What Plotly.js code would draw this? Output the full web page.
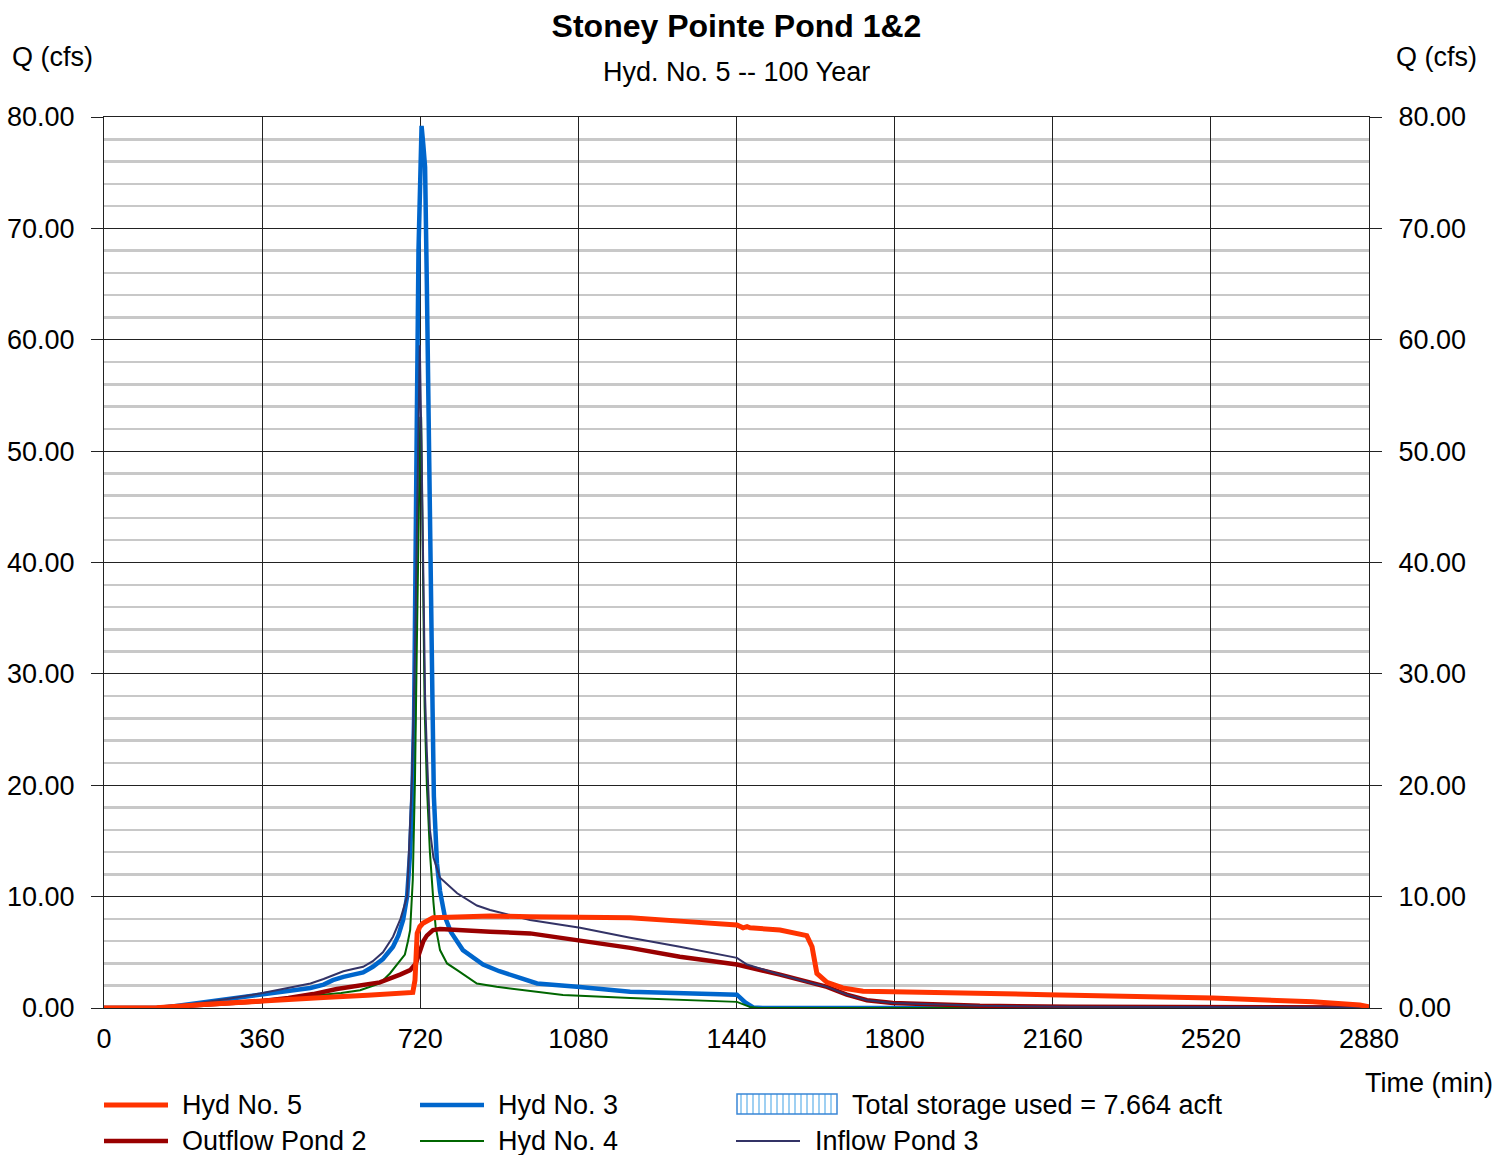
<!DOCTYPE html>
<html>
<head>
<meta charset="utf-8">
<script src="https://cdn.plot.ly/plotly-3.0.1.min.js"></script>
<style>html,body{margin:0;padding:0;background:#fff;}#chart{width:1498px;height:1155px;}</style>
</head>
<body>
<div id="chart"></div>
<script>
// ---- Data (time in minutes, flow in cfs) ----
const hyd5_t = [0,120,218,355,500,600,703,708,713,719,726,749,879,970,1084,1198,1311,1441,1455,1464,1471,1500,1539,1600,1612,1623,1646,1682,1728,1796,1994,2147,2525,2752,2859,2880];
const hyd5_q = [0,0.02,0.3,0.65,0.95,1.15,1.4,2.5,6.7,7.3,7.6,8.1,8.25,8.2,8.2,8.1,7.8,7.45,7.2,7.3,7.2,7.1,7.0,6.5,5.5,3.1,2.3,1.8,1.5,1.45,1.35,1.2,0.9,0.55,0.27,0.1];

const hyd3_t = [0,120,160,200,260,300,355,420,470,500,521,545,567,590,612,635,658,670,681,690,697,702,706,709,712,716,720,723,727,731,735,738,742,745,748,751,755,758,765,776,790,817,863,900,940,986,1077,1198,1300,1425,1441,1460,1478,1500,2880];
const hyd3_q = [0,0,0.15,0.35,0.7,0.9,1.17,1.5,1.8,2.1,2.5,2.8,2.95,3.2,3.7,4.4,5.5,6.5,7.9,10,14,19,26,36,52,68,77,79.2,77.5,75.5,65,54.6,44,36,27,19,15,13,10.5,8.2,6.8,5.2,3.9,3.3,2.8,2.2,1.9,1.45,1.35,1.25,1.2,0.5,0.05,0,0];

const outflow2_t = [0,120,218,300,355,420,476,530,583,628,674,697,710,719,727,735,749,765,800,879,970,1084,1198,1311,1441,1539,1614,1646,1691,1737,1796,1994,2200,2880];
const outflow2_q = [0,0,0.27,0.45,0.6,0.9,1.25,1.7,2.06,2.3,3.0,3.4,4.0,5.2,6.0,6.5,7.0,7.1,7.05,6.85,6.7,6.1,5.4,4.6,3.9,3.0,2.2,1.9,1.2,0.7,0.45,0.2,0.12,0.05];

const hyd4_t = [0,120,200,300,400,492,540,583,628,651,670,685,692,697,703,708,712,716,720,722,726,730,735,742,750,755,765,781,804,849,894,1045,1198,1425,1441,1470,1490,2880];
const hyd4_q = [0,0,0.2,0.5,0.85,1.17,1.35,1.6,2.2,3.1,4.0,4.8,6.0,7.0,11.5,20.5,32,45,53,53,40,27,20,14,9.5,7.3,5.2,4.0,3.4,2.2,1.9,1.17,0.9,0.63,0.55,0.1,0,0];

const inflow3_t = [0,120,200,280,355,420,470,500,521,545,567,590,612,635,658,675,690,701,708,713,717,719,723,727,731,735,738,742,750,765,804,849,879,970,1084,1198,1311,1425,1441,1464,1539,1614,1646,1691,1737,1796,1994,2200,2880];
const inflow3_q = [0,0,0.35,0.8,1.3,1.8,2.2,2.6,2.9,3.3,3.5,3.7,4.2,5.0,6.4,8.0,10,20.5,32,45,55,59.5,50,38,28,23,20.5,16,13.5,11.7,10.3,9.2,8.8,7.9,7.2,6.3,5.5,4.6,4.5,3.9,3.0,2.2,1.9,1.2,0.7,0.45,0.2,0.12,0.05];

const xTicks = [0,360,720,1080,1440,1800,2160,2520,2880];
const storageLabel = 'Total storage used = 7.664 acft';

// ---- Styling ----
const FONT = 'Liberation Sans, Arial, Helvetica, sans-serif';
const FS = 27;
const C5 = '#ff3300', C3 = '#0066cc', CO2 = '#990000', C4 = '#006600', CI3 = '#333366';

const traces = [
  {x: hyd3_t, y: hyd3_q, name: 'Hyd No. 3', mode: 'lines', line: {color: C3, width: 4.5}},
  {x: hyd4_t, y: hyd4_q, name: 'Hyd No. 4', mode: 'lines', line: {color: C4, width: 2}},
  {x: outflow2_t, y: outflow2_q, name: 'Outflow Pond 2', mode: 'lines', line: {color: CO2, width: 4.5}},
  {x: inflow3_t, y: inflow3_q, name: 'Inflow Pond 3', mode: 'lines', line: {color: CI3, width: 2}},
  {x: hyd5_t, y: hyd5_q, name: 'Hyd No. 5', mode: 'lines', line: {color: C5, width: 5}}
];
traces.forEach(t => { t.showlegend = false; t.hoverinfo = 'x+y+name'; });

// paper coordinate helpers for layout decorations (legend, labels)
const L = 104, R = 1369, T = 117, B = 1008;
const px = v => (v - L) / (R - L);
const py = v => (B - v) / (B - T);

const shapes = [];
const annotations = [];
function legendLine(x0, x1, yy, color, width) {
  shapes.push({type: 'line', xref: 'paper', yref: 'paper', x0: px(x0), x1: px(x1), y0: py(yy), y1: py(yy), line: {color: color, width: width}});
}
function label(text, x, y, xanchor, size) {
  annotations.push({text: text, xref: 'paper', yref: 'paper', x: px(x), y: py(y), xanchor: xanchor || 'left', yanchor: 'middle', showarrow: false, font: {family: FONT, size: size || FS, color: '#000'}});
}
legendLine(104, 168, 1105, C5, 5);   label('Hyd No. 5', 180, 1105);
legendLine(420, 484, 1105, C3, 4.5); label('Hyd No. 3', 496, 1105);
legendLine(104, 168, 1141, CO2, 4.5); label('Outflow Pond 2', 180, 1141);
legendLine(420, 484, 1141, C4, 2);   label('Hyd No. 4', 496, 1141);
legendLine(736, 800, 1141, CI3, 2);  label('Inflow Pond 3', 813, 1141);
// storage hatched box
for (let sx = 741; sx < 837; sx += 6) {
  shapes.push({type: 'line', xref: 'paper', yref: 'paper', x0: px(sx), x1: px(sx), y0: py(1094), y1: py(1114), line: {color: '#9fd0f2', width: 2}});
}
shapes.push({type: 'rect', xref: 'paper', yref: 'paper', x0: px(737), x1: px(837), y0: py(1114), y1: py(1094), line: {color: '#3a86d6', width: 1.5}});
label(storageLabel, 850, 1105);

// axis captions
label('Q (cfs)', 10, 57);
label('Q (cfs)', 1479, 57, 'right');
label('Time (min)', 1495, 1083, 'right');
label('Hyd. No. 5 -- 100 Year', 736.5, 72, 'center');

const layout = {
  width: 1498, height: 1155,
  margin: {l: L, r: 1498 - R, t: T, b: 1155 - B, pad: 0},
  paper_bgcolor: '#fff', plot_bgcolor: '#fff',
  font: {family: FONT, size: FS, color: '#000'},
  showlegend: false,
  title: {text: '<b>Stoney Pointe Pond 1&2</b>', font: {family: FONT, size: 32, color: '#000'},
          x: 0.5, xref: 'paper', xanchor: 'center', y: 1 - 26 / 1155, yref: 'container', yanchor: 'middle'},
  xaxis: {range: [0, 2880], tickvals: xTicks, ticktext: xTicks.map(String), ticks: '', showgrid: true,
          gridcolor: '#222', gridwidth: 1, showline: true, linecolor: '#222', linewidth: 1, mirror: true,
          zeroline: false, ticklabelstandoff: 7, tickfont: {family: FONT, size: FS, color: '#000'}},
  yaxis: {range: [0, 80], dtick: 10, tick0: 0, tickformat: '.2f', ticks: 'outside', ticklen: 12, tickcolor: '#222',
          showgrid: true, gridcolor: '#222', gridwidth: 1, showline: true, linecolor: '#222', linewidth: 1, mirror: true,
          zeroline: false, ticklabelstandoff: 11, tickfont: {family: FONT, size: FS, color: '#000'},
          minor: {dtick: 2, showgrid: true, gridcolor: '#c8c8c8', gridwidth: 2.5, ticks: ''}},
  yaxis2: {range: [0, 80], dtick: 10, tick0: 0, tickformat: '.2f', overlaying: 'y', side: 'right', ticks: 'outside',
           ticklen: 12, tickcolor: '#222', showgrid: false, zeroline: false, showline: false,
           ticklabelstandoff: 11, tickfont: {family: FONT, size: FS, color: '#000'}},
  shapes: shapes,
  annotations: annotations
};

// a hidden companion trace anchors the right-hand axis
traces.push({x: [0, 2880], y: [0, 0], yaxis: 'y2', mode: 'lines', line: {width: 0, color: 'rgba(0,0,0,0)'}, showlegend: false, hoverinfo: 'skip'});

Plotly.newPlot('chart', traces, layout, {displayModeBar: false, staticPlot: true});
</script>
</body>
</html>
